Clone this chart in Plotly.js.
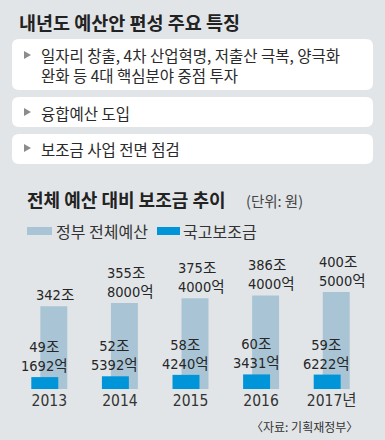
<!DOCTYPE html>
<html><head><meta charset="utf-8">
<script src="https://cdn.plot.ly/plotly-3.0.1.min.js"></script>
<style>html,body{margin:0;padding:0;background:#e1e5e8;}#chart{width:385px;height:440px;}</style>
</head><body><div id="chart"></div>
<script>
// ---- data ----
const years = ['2013', '2014', '2015', '2016', '2017'];
const yearLabels = ['2013', '2014', '2015', '2016', '2017년'];
const budgetJo = [342, 355, 375, 386, 400];        // 정부 전체예산 (조)
const budgetEok = [0, 8000, 4000, 4000, 5000];     // (억)
const subsidyJo = [49, 52, 58, 60, 59];            // 국고보조금 (조)
const subsidyEok = [1692, 5392, 4240, 3431, 6222]; // (억)
const features = [
  ['일자리 창출, 4차 산업혁명, 저출산 극복, 양극화', '완화 등 4대 핵심분야 중점 투자'],
  ['융합예산 도입'],
  ['보조금 사업 전면 점검']
];
const mainTitle = '내년도 예산안 편성 주요 특징';
const chartTitle = '전체 예산 대비 보조금 추이';
const unitText = '(단위: 원)';
const legendNames = ['정부 전체예산', '국고보조금'];
const sourceText = '〈자료: 기획재정부〉';

// ---- derived ----
const idx = years.map((_, i) => i);
const budget = budgetJo.map((j, i) => j + budgetEok[i] / 10000);
const subsidy = subsidyJo.map((j, i) => j + subsidyEok[i] / 10000);

// ---- geometry helpers (pixel -> paper) ----
const L = 14, R = 18, T = 240, Bm = 51, WIDTH = 385, HEIGHT = 440;
const PW = WIDTH - L - R, PH = HEIGHT - T - Bm, PB = HEIGHT - Bm;
const X = p => (p - L) / PW;
const Y = p => (PB - p) / PH;

const BG = '#e1e5e8', LIGHT = '#a9c5d5', BLUE = '#0095d8';
const KR = '"Noto Sans CJK KR", "Noto Sans", sans-serif';
const NUM = '"Liberation Sans Narrow", "DejaVu Sans Condensed", "Noto Sans CJK KR", sans-serif';

function roundRect(x0, y0, x1, y1, r) {
  const rx = r / PW, ry = r / PH;
  const a = X(x0), b = X(x1), t = Y(y0), u = Y(y1);
  return `M${a + rx},${t} L${b - rx},${t} Q${b},${t} ${b},${t - ry} L${b},${u + ry} Q${b},${u} ${b - rx},${u} L${a + rx},${u} Q${a},${u} ${a},${u + ry} L${a},${t - ry} Q${a},${t} ${a + rx},${t} Z`;
}
function tri(x, yc) {
  return `M${X(x)},${Y(yc - 4)} L${X(x + 7)},${Y(yc)} L${X(x)},${Y(yc + 4)} Z`;
}

const shapes = [];
const annotations = [];
function txt(text, x, y, opts) {
  annotations.push(Object.assign({
    text: text, xref: 'paper', yref: 'paper', x: X(x), y: Y(y),
    xanchor: 'left', yanchor: 'middle', showarrow: false, align: 'left',
    font: {family: KR, size: 15.5, color: '#2a2a2a'}
  }, opts || {}));
}

// main title
txt(mainTitle, 17, 22, {font: {family: KR, size: 18.5, color: '#222', weight: 'bold'}});

// feature boxes: [top, bottom, text centre, first-line centre]
const boxes = [[39, 90, 65, 56], [97, 127, 113, 113], [134, 164, 149, 149]];
boxes.forEach((bx, k) => {
  shapes.push({type: 'path', xref: 'paper', yref: 'paper', path: roundRect(12, bx[0], 373, bx[1], 7),
    fillcolor: '#ffffff', line: {width: 0}, layer: 'below'});
  shapes.push({type: 'path', xref: 'paper', yref: 'paper', path: tri(24, bx[3] - 1),
    fillcolor: '#8c8c8c', line: {width: 0}});
  txt(features[k].join('<br>'), 39, bx[2]);
});

// chart title
txt(chartTitle, 25, 199, {font: {family: KR, size: 18, color: '#222', weight: 'bold'}});
txt(unitText, 244, 200, {font: {family: KR, size: 14.5, color: '#444'}});

// legend
shapes.push({type: 'rect', xref: 'paper', yref: 'paper', x0: X(27), x1: X(52), y0: Y(227), y1: Y(235), fillcolor: LIGHT, line: {width: 0}});
shapes.push({type: 'rect', xref: 'paper', yref: 'paper', x0: X(157), x1: X(180), y0: Y(227), y1: Y(235), fillcolor: BLUE, line: {width: 0}});
txt(legendNames[0], 54, 231, {font: {family: KR, size: 16, color: '#333'}});
txt(legendNames[1], 181, 231, {font: {family: KR, size: 16, color: '#333'}});

// source
txt(sourceText, 360, 426, {xanchor: 'right', font: {family: KR, size: 12, color: '#333'}});

// value labels (data coords)
const labFont = {family: NUM, size: 14.5, color: '#262626'};
idx.forEach(i => {
  const lines = budgetEok[i] > 0 ? [budgetJo[i] + '조', budgetEok[i] + '억'] : [budgetJo[i] + '조'];
  annotations.push({text: lines.join('<br>'), x: i, y: budget[i], xref: 'x', yref: 'y',
    xanchor: 'left', yanchor: 'bottom', align: 'left', xshift: -15, yshift: 1, showarrow: false, font: labFont});
  const sl = [subsidyJo[i] + '조', subsidyEok[i] + '억'];
  annotations.push({text: sl.join('<br>'), x: i, y: subsidy[i], xref: 'x', yref: 'y',
    xanchor: 'center', yanchor: 'bottom', align: 'center', xshift: -5, yshift: 1, showarrow: false, font: labFont});
});

const barW = 0.382;
const data = [
  {type: 'bar', x: idx, y: budget, width: barW, offset: -0.127, marker: {color: LIGHT}, hoverinfo: 'skip', name: legendNames[0]},
  {type: 'bar', x: idx, y: subsidy, width: barW, offset: -0.255, marker: {color: BLUE}, hoverinfo: 'skip', name: legendNames[1]}
];

const layout = {
  width: WIDTH, height: HEIGHT,
  margin: {l: L, r: R, t: T, b: Bm, pad: 0},
  paper_bgcolor: BG, plot_bgcolor: BG,
  barmode: 'overlay', showlegend: false,
  xaxis: {range: [-0.5, 4.5], tickvals: idx, ticktext: yearLabels, showgrid: false, zeroline: false,
    showline: false, ticks: '', tickfont: {family: NUM, size: 15.5, color: '#333'}, fixedrange: true},
  yaxis: {range: [0, PH / 0.242], visible: false, fixedrange: true},
  shapes: shapes, annotations: annotations
};
Plotly.newPlot('chart', data, layout, {displayModeBar: false, staticPlot: true});
</script></body></html>
